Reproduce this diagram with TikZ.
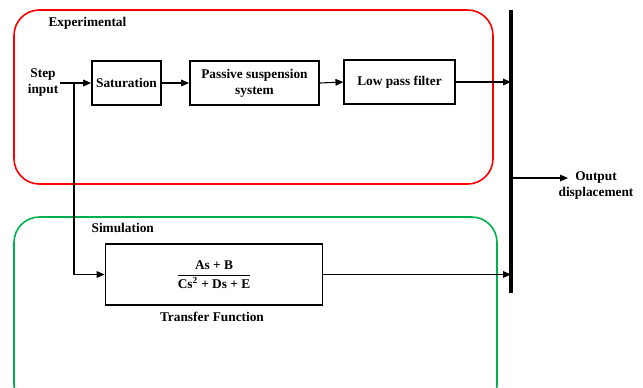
\documentclass[tikz,border=0pt]{standalone}
\usepackage{fontspec}
\setmainfont{Liberation Serif}
\usetikzlibrary{arrows.meta}
\definecolor{expred}{RGB}{255,0,0}
\definecolor{simgreen}{RGB}{0,176,80}
\tikzset{
    block/.style = {draw, line width = 1.1pt, align = center, inner sep = 2pt, font = \bfseries},
    txt/.style = {align = center, font = \bfseries, inner sep = 1pt},
    flow/.style = {-{Triangle[length = 6pt, width = 5pt]}, line width = 0.8pt},
    group/.style = {line width = 1.2pt, rounded corners = 19pt}
}

\begin{document}
\begin{tikzpicture}[x = 0.75pt, y = -0.75pt]

    \clip (0, 0) rectangle (643, 387);

    % experimental and simulation frames
    \draw [group, draw = expred] (14, 10) rectangle (493, 184);
    \draw [group, draw = simgreen] (14, 217) rectangle (497, 410);

    \node [txt, anchor = west] (exptitle) at (47, 23) {Experimental};
    \node [txt, anchor = west] (simtitle) at (90, 228) {Simulation};

    % blocks
    \node [txt] (step) at (43, 82) {Step\\input};
    \node [block, minimum width = 52pt, minimum height = 33pt] (sat) at (126.5, 83) {Saturation};
    \node [block, minimum width = 97pt, minimum height = 33pt] (pss) at (254.5, 83) {Passive suspension\\system};
    \node [block, minimum width = 83pt, minimum height = 33pt] (lpf) at (399.5, 82) {Low pass filter};
    \node [block, minimum width = 163pt, minimum height = 46pt] (tf) at (214, 274.5)
        {$\displaystyle\frac{\mbox{\bfseries As + B}}{\mbox{\bfseries Cs\textsuperscript{2} + Ds + E}}$};
    \node [txt] (tflabel) at (212, 317) {Transfer Function};
    \node [txt] (out) at (596, 185) {Output\\displacement};

    % summing bar
    \coordinate (bartop) at (511, 10);
    \coordinate (barbot) at (511, 293);
    \coordinate (tap) at (511, 178);
    \coordinate (outtip) at (568, 178);
    \coordinate (branch) at (74, 82);
    \draw [line width = 3pt] (bartop) -- (barbot);

    % connectors
    \draw [flow] (step.east |- sat.west) -- (sat.west);
    \draw [flow] (sat.east) -- (pss.west);
    \draw [flow] (pss.east) -- (lpf.west);
    \draw [flow] (lpf.east) -- (lpf.east -| bartop);
    \draw [flow] (branch) |- (tf.west);
    \draw [flow] (tf.east) -- (tf.east -| bartop);
    \draw [flow] (tap) -- (outtip);

\end{tikzpicture}
\end{document}
